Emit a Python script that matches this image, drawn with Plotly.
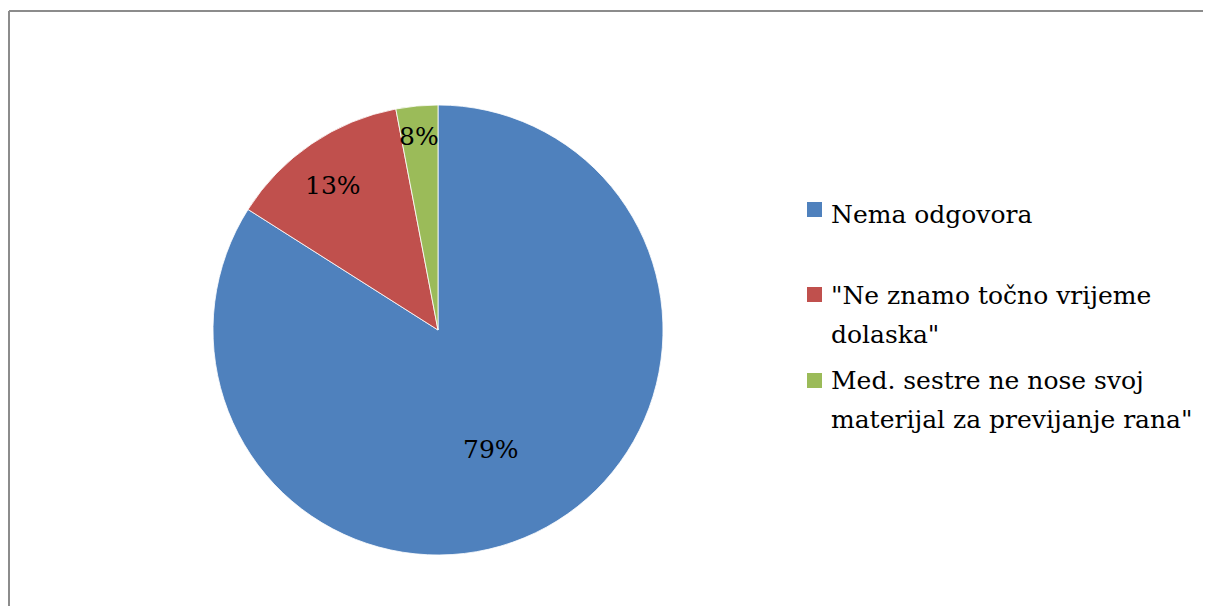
import plotly.graph_objects as go

# page body has an 8px margin: figure origin sits at (8, 8) in the window
OFF = 8
W, H = 1211 - OFF, 606 - OFF

# Data
categories = ["Nema odgovora", "\"Ne znamo točno vrijeme dolaska\"",
              "Med. sestre ne nose svoj materijal za previjanje rana\""]
legend_lines = [["Nema odgovora"],
                ["\"Ne znamo točno vrijeme", "dolaska\""],
                ["Med. sestre ne nose svoj", "materijal za previjanje rana\""]]
slice_values = [84, 13, 3]          # slice sizes as drawn
label_text = ["79%", "13%", "8%"]   # labels as printed on the chart
colors = ["#4F81BD", "#C0504D", "#9BBB59"]

def px(x):
    return (x - OFF) / W

def py(y):
    return 1 - (y - OFF) / H

FONT = "DejaVu Serif"
FS = 25

fig = go.Figure()
fig.add_trace(go.Pie(
    labels=categories,
    values=slice_values,
    sort=False,
    direction="clockwise",
    rotation=0,
    marker=dict(colors=colors, line=dict(color="rgba(255,255,255,0.8)", width=1)),
    textinfo="none",
    hoverinfo="label+percent",
    showlegend=False,
    domain=dict(x=[px(213), px(663)], y=[py(555), py(105)]),
))

annotations = []
label_pos = [(491, 449), (333, 185), (419, 137)]
for t, (x, y) in zip(label_text, label_pos):
    annotations.append(dict(x=px(x), y=py(y), xref="paper", yref="paper",
                            text=t, showarrow=False, xanchor="center", yanchor="middle",
                            font=dict(family=FONT, size=FS, color="#000000")))

first_line_mid = [214, 295, 380]
line_step = 39
square_top = [202, 287, 373]
shapes = []
for lines, c, ym, st in zip(legend_lines, colors, first_line_mid, square_top):
    for i, line in enumerate(lines):
        annotations.append(dict(x=px(829), y=py(ym + i * line_step), xref="paper", yref="paper",
                                text=line, showarrow=False, xanchor="left", yanchor="middle",
                                align="left",
                                font=dict(family=FONT, size=FS, color="#000000")))
    shapes.append(dict(type="rect", xref="paper", yref="paper",
                       x0=px(807), x1=px(822), y0=py(st + 15), y1=py(st),
                       fillcolor=c, line=dict(width=0)))

# outer frame: only left and top edges are within view
frame = dict(xref="paper", yref="paper", line=dict(color="#8c8c8c", width=2), layer="above")
shapes.append(dict(type="line", x0=px(9), y0=py(11), x1=px(1240), y1=py(11), **frame))
shapes.append(dict(type="line", x0=px(9), y0=py(11), x1=px(9), y1=py(640), **frame))

fig.update_layout(
    width=W, height=H,
    margin=dict(l=0, r=0, t=0, b=0),
    paper_bgcolor="white",
    plot_bgcolor="white",
    annotations=annotations,
    shapes=shapes,
)

fig.write_html("out.html")
